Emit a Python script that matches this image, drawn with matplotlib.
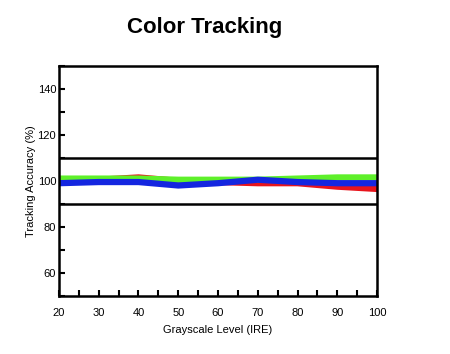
import matplotlib
matplotlib.use("Agg")
import matplotlib.pyplot as plt
from matplotlib.ticker import MultipleLocator

levels = [20, 30, 40, 50, 60, 70, 80, 90, 100]
red = [100, 100.5, 101.5, 100, 99.5, 99, 99, 97.5, 96.5]
green = [101, 101, 101, 100.5, 100.5, 100.5, 101, 101.5, 101.5]
blue = [99, 99.5, 99.5, 98, 99, 100.5, 99.5, 99, 99]

fig = plt.figure(figsize=(4.5, 3.54), dpi=100)
ax = fig.add_axes([0.131, 0.164, 0.707, 0.65])

ax.plot(levels, red, color="#e8141c", lw=4.5)
ax.plot(levels, green, color="#5ef02a", lw=4.5)
ax.plot(levels, blue, color="#1426e0", lw=4.5)
ax.axhline(110, color="black", lw=1.8)
ax.axhline(90, color="black", lw=1.8)

ax.set_xlim(20, 100)
ax.set_ylim(50, 150)
ax.set_xticks(range(20, 101, 10))
ax.xaxis.set_minor_locator(MultipleLocator(5))
ax.set_yticks(range(60, 141, 20))
ax.yaxis.set_minor_locator(MultipleLocator(10))
ax.tick_params(which="both", direction="in", width=1.5, length=4, labelsize=8)
ax.tick_params(axis="x", pad=9)
ax.tick_params(axis="y", pad=2)
for s in ax.spines.values():
    s.set_linewidth(1.8)

ax.set_xlabel("Grayscale Level (IRE)", fontsize=8, family="Liberation Sans", labelpad=5)
ax.set_ylabel("Tracking Accuracy (%)", fontsize=8, family="Liberation Sans", labelpad=1)
for lbl in ax.get_xticklabels() + ax.get_yticklabels():
    lbl.set_family("Liberation Sans")
fig.text(0.455, 0.921, "Color Tracking", ha="center", va="center",
         fontsize=16, fontweight="bold", family="Liberation Sans")

fig.savefig("out.png")
